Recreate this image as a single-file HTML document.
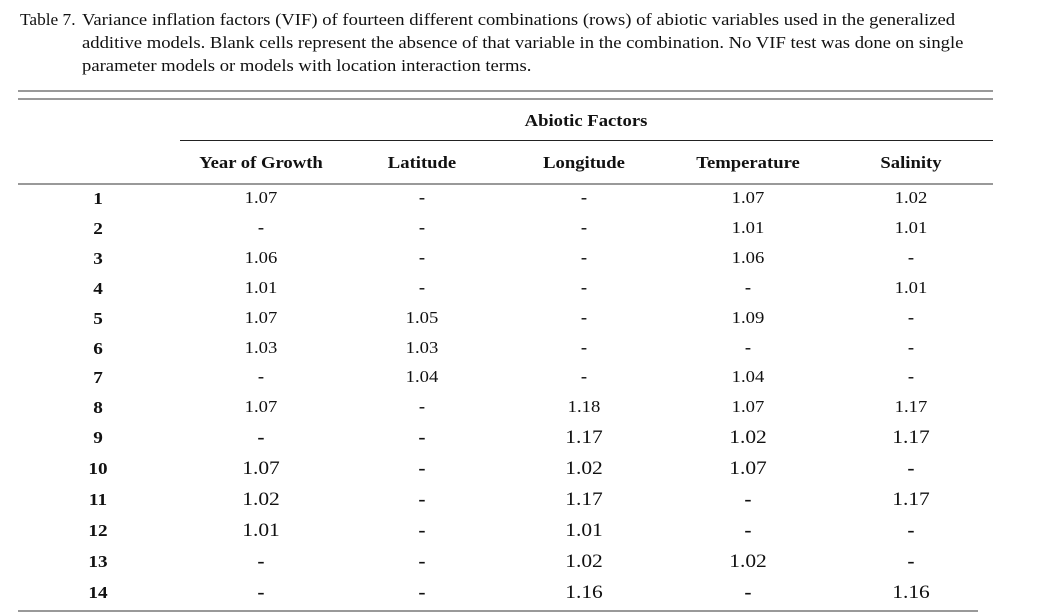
<!DOCTYPE html>
<html><head><meta charset="utf-8"><style>
body{margin:0;width:1039px;height:616px;background:#fff;position:relative;font-family:"Liberation Serif",serif;color:#111;overflow:hidden}
.a{position:absolute;white-space:nowrap;transform-origin:0 0;transform:scaleX(1.13)}
.c{position:absolute;transform:translateX(-50%) scaleX(1.13);white-space:nowrap;line-height:1}
.l{position:absolute;background:#999;height:2px}
.k{position:absolute;background:#222;height:1px}
.b{font-weight:bold}
</style></head><body>
<div class="a" style="left:20px;top:8px;font-size:16.5px;line-height:23px;transform:scaleX(1.05)">Table 7.</div>
<div class="a" style="left:82px;top:8px;font-size:16.5px;line-height:23px">Variance inflation factors (VIF) of fourteen different combinations (rows) of abiotic variables used in the generalized<br>additive models. Blank cells represent the absence of that variable in the combination. No VIF test was done on single<br>parameter models or models with location interaction terms.</div>
<div class="l" style="left:18px;width:975px;top:90px"></div>
<div class="l" style="left:18px;width:975px;top:98px"></div>
<div class="c b" style="left:586px;top:113px;font-size:16.5px">Abiotic Factors</div>
<div class="k" style="left:180px;width:813px;top:140px"></div>
<div class="c b" style="left:261px;top:155px;font-size:16.5px">Year of Growth</div>
<div class="c b" style="left:422px;top:155px;font-size:16.5px">Latitude</div>
<div class="c b" style="left:584px;top:155px;font-size:16.5px">Longitude</div>
<div class="c b" style="left:748px;top:155px;font-size:16.5px">Temperature</div>
<div class="c b" style="left:911px;top:155px;font-size:16.5px">Salinity</div>
<div class="l" style="left:18px;width:975px;top:183px"></div>
<div id="rows"></div>
<div class="l" style="left:18px;width:960px;top:610px"></div>
<script>
var d=[[1,"1.07","-","-","1.07","1.02"],[2,"-","-","-","1.01","1.01"],[3,"1.06","-","-","1.06","-"],[4,"1.01","-","-","-","1.01"],[5,"1.07","1.05","-","1.09","-"],[6,"1.03","1.03","-","-","-"],[7,"-","1.04","-","1.04","-"],[8,"1.07","-","1.18","1.07","1.17"],[9,"-","-","1.17","1.02","1.17"],[10,"1.07","-","1.02","1.07","-"],[11,"1.02","-","1.17","-","1.17"],[12,"1.01","-","1.01","-","-"],[13,"-","-","1.02","1.02","-"],[14,"-","-","1.16","-","1.16"]];
var ys=[198,228,258,288,318,348,377,407,437,468,499,530,561,592];
var xs=[98,261,422,584,748,911];var h="";
d.forEach(function(r,i){var big=i>=8;var fs=big?19:16.5;
r.forEach(function(v,j){var f=(j==0)?17:fs;
h+='<div class="c'+((j==0||v=="-")?' b':'')+'" style="left:'+xs[j]+'px;top:'+(ys[i]-f*0.5)+'px;font-size:'+f+'px">'+v+'</div>';});});
document.getElementById("rows").outerHTML=h;
</script>
</body></html>
